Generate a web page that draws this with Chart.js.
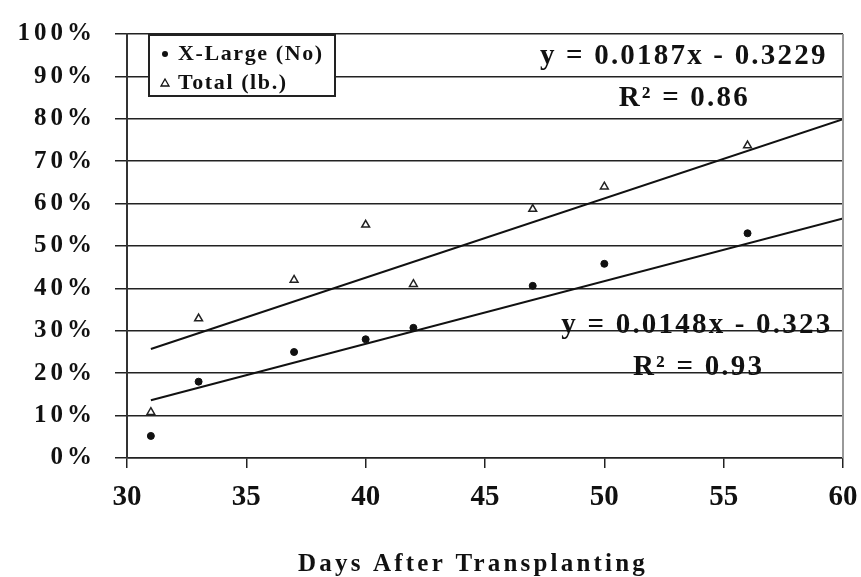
<!DOCTYPE html>
<html>
<head>
<meta charset="utf-8">
<script src="https://cdn.jsdelivr.net/npm/chart.js@4.4.1/dist/chart.umd.min.js"></script>
<style>
  html, body { margin: 0; padding: 0; background: #fff; }
  #wrap { width: 861px; height: 577px; }
</style>
</head>
<body>
<div id="wrap"><canvas id="chart"></canvas></div>
<script>
// values (percent)
const days = [31, 33, 37, 40, 42, 47, 50, 56];
const xLargePct = [5.2, 18, 25, 28, 30.7, 40.6, 45.8, 53];
const totalPct = [10.8, 32.9, 42, 55, 41, 58.7, 64, 73.7];

// trendline end points
const trendDays = [31, 60];
const xLargeTrend = [13.6, 56.5];
const totalTrend = [25.7, 79.9];

const seriesLabels = ['X-Large (No)', 'Total (lb.)'];
const equationTexts = ['y = 0.0187x - 0.3229', 'y = 0.0148x - 0.323'];
const r2Texts = ['R\u00B2 = 0.86', 'R\u00B2 = 0.93'];

const SERIF = "'Liberation Serif', 'Times New Roman', serif";
const INK = '#111';

const toXY = (xs, ys) => xs.map((x, i) => ({ x: x, y: ys[i] }));

// wrap a scale draw step so its text gets letter spacing (and a nudge)
function spaced(scale, method, spacing, dx, dy) {
    const key = '$wrapped_' + method;
    if (scale[key]) return;
    scale[key] = true;
    const orig = scale[method];
    scale[method] = function (area) {
        const ctx = this.ctx;
        ctx.save();
        ctx.letterSpacing = spacing;
        ctx.translate(dx || 0, dy || 0);
        orig.call(this, area);
        ctx.restore();
    };
}

const overlayPlugin = {
    id: 'overlay',
    afterDatasetsDraw(chart) {
        const ctx = chart.ctx;
        const area = chart.chartArea;
        const xs = chart.scales.x;
        const ys = chart.scales.y;

        // right frame line
        ctx.save();
        ctx.strokeStyle = '#999';
        ctx.lineWidth = 2;
        ctx.beginPath();
        ctx.moveTo(area.right, area.top);
        ctx.lineTo(area.right, area.bottom);
        ctx.stroke();

        // legend box
        const bx = area.left + 22, by = area.top + 1, bw = 186, bh = 61;
        ctx.fillStyle = '#fff';
        ctx.fillRect(bx, by, bw, bh);
        ctx.strokeStyle = '#222';
        ctx.lineWidth = 2;
        ctx.strokeRect(bx, by, bw, bh);

        ctx.font = 'bold 22px ' + SERIF;
        ctx.letterSpacing = '1.6px';
        ctx.fillStyle = INK;
        ctx.textBaseline = 'middle';
        ctx.textAlign = 'left';
        const rows = [by + 19, by + 48];
        // circle marker
        ctx.beginPath();
        ctx.arc(bx + 16, rows[0], 3, 0, Math.PI * 2);
        ctx.fill();
        // triangle marker
        ctx.beginPath();
        ctx.moveTo(bx + 16, rows[1] - 4);
        ctx.lineTo(bx + 20, rows[1] + 3);
        ctx.lineTo(bx + 12, rows[1] + 3);
        ctx.closePath();
        ctx.fillStyle = '#fff';
        ctx.fill();
        ctx.strokeStyle = INK;
        ctx.lineWidth = 1.3;
        ctx.stroke();
        ctx.fillStyle = INK;
        ctx.fillText(seriesLabels[0], bx + 29, rows[0]);
        ctx.fillText(seriesLabels[1], bx + 29, rows[1]);

        // trendline equations
        ctx.font = 'bold 29px ' + SERIF;
        ctx.letterSpacing = '2.2px';
        const notes = [
            [equationTexts[0], 47.3, 94.6],
            [r2Texts[0], 50.6, 84.7],
            [equationTexts[1], 48.2, 31.2],
            [r2Texts[1], 51.2, 21.4]
        ];
        notes.forEach(n => {
            ctx.fillText(n[0], xs.getPixelForValue(n[1]), ys.getPixelForValue(n[2]));
        });
        ctx.restore();
    }
};

new Chart(document.getElementById('chart'), {
    type: 'scatter',
    data: {
        datasets: [
            {
                label: 'Total trend',
                data: toXY(trendDays, totalTrend),
                showLine: true,
                borderColor: INK,
                borderWidth: 2,
                pointRadius: 0
            },
            {
                label: 'X-Large trend',
                data: toXY(trendDays, xLargeTrend),
                showLine: true,
                borderColor: INK,
                borderWidth: 2,
                pointRadius: 0
            },
            {
                label: seriesLabels[0],
                data: toXY(days, xLargePct),
                pointStyle: 'circle',
                pointRadius: 3.5,
                backgroundColor: INK,
                borderColor: INK,
                borderWidth: 1
            },
            {
                label: seriesLabels[1],
                data: toXY(days, totalPct),
                pointStyle: 'triangle',
                pointRadius: 4.5,
                backgroundColor: '#fff',
                borderColor: '#222',
                borderWidth: 1.5
            }
        ]
    },
    options: {
        responsive: true,
        maintainAspectRatio: false,
        animation: false,
        layout: { padding: { top: 32, right: 18, left: 0, bottom: 0 } },
        plugins: {
            legend: { display: false },
            tooltip: { enabled: false }
        },
        scales: {
            x: {
                type: 'linear',
                min: 30,
                max: 60,
                ticks: {
                    stepSize: 5,
                    maxRotation: 0,
                    color: INK,
                    padding: 12,
                    font: { family: SERIF, size: 29, weight: 'bold' }
                },
                grid: { drawOnChartArea: false, tickLength: 10, color: '#222', lineWidth: 1.5 },
                border: { color: '#222', width: 1.5 },
                title: {
                    display: true,
                    text: 'Days After Transplanting',
                    color: INK,
                    padding: { top: 0, bottom: 0 },
                    font: { family: SERIF, size: 25, weight: 'bold' }
                },
                afterFit(scale) {
                    scale.height = 119;
                    scale.paddingLeft = 0;
                    scale.paddingRight = 0;
                    spaced(scale, 'drawTitle', '3.2px', -12, 3);
                }
            },
            y: {
                min: 0,
                max: 100,
                ticks: {
                    stepSize: 10,
                    color: INK,
                    padding: 19,
                    font: { family: SERIF, size: 25, weight: 'bold' },
                    callback: v => v + '%'
                },
                grid: { color: '#222', lineWidth: 1.5, tickLength: 12 },
                border: { color: '#333', width: 2 },
                afterFit(scale) {
                    scale.width = 127;
                    spaced(scale, 'drawLabels', '4px');
                }
            }
        }
    },
    plugins: [overlayPlugin]
});
</script>
</body>
</html>
